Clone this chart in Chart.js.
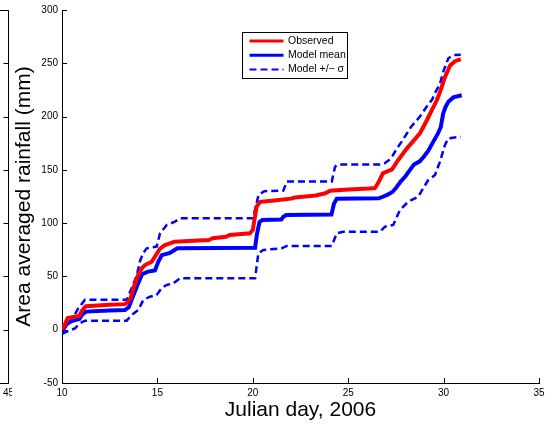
<!DOCTYPE html>
<html>
<head>
<meta charset="utf-8">
<script src="https://cdn.jsdelivr.net/npm/chart.js@4"></script>
<style>
  html, body { margin: 0; padding: 0; background: #fff; }
  canvas { display: block; }
</style>
</head>
<body>
<canvas id="myChart" width="555" height="428"></canvas>
<script>
// cumulative area averaged rainfall, Julian day 2006
const obsDays = [10, 10.15, 10.3, 10.9, 11.05, 11.25, 12.5, 13.3, 13.45, 13.6, 13.8, 14.0, 14.2, 14.35, 14.7, 14.85, 15.14, 15.4, 15.9, 16.9,
  17.7, 17.9, 18.6, 18.8, 19.85, 20.0, 20.2, 20.38, 21.0, 22.0, 22.2, 23.3, 23.8, 24.05, 25.0, 26.1, 26.4, 26.56, 26.82, 27.3,
  27.56, 28.08, 28.76, 29.13, 29.39, 29.65, 29.81, 30.07, 30.34, 30.6, 30.9];
const obsRain = [0, 5, 11, 13, 18, 22, 23.5, 24, 26, 30, 42, 52, 58, 60.7, 63.8, 68, 76, 79.5, 82.6, 83.5,
  84.2, 85.8, 87.3, 88.9, 90.5, 93.6, 115.5, 120, 121, 123, 124, 126, 128, 130.5, 131.5, 132.5, 133, 137.4, 146.8, 150.5,
  157.7, 170.2, 184.3, 196.8, 206.2, 215.5, 223, 237, 248, 252, 254];

const meanDays = [10, 10.15, 10.3, 10.5, 10.9, 11.05, 11.25, 12.5, 13.3, 13.5, 13.65, 13.8, 14.0, 14.2, 14.5, 14.87, 15.05, 15.23, 15.66, 15.92,
  16.05, 20.12, 20.22, 20.35, 20.5, 21.5, 21.6, 21.75, 24.12, 24.25, 24.4, 26.6, 26.85, 27.1, 27.3, 27.5, 27.75, 28.0, 28.24, 28.45,
  28.75, 28.95, 29.2, 29.46, 29.7, 29.85, 29.98, 30.1, 30.25, 30.51, 30.95];
const meanRain = [-1, 3, 6, 8, 10, 14, 17, 18, 18.5, 21, 28, 35, 44, 52, 54.5, 55.5, 64, 70, 72, 75,
  76.4, 77, 90, 101, 103, 103.5, 106, 107.6, 108, 118, 123, 123.3, 125, 127, 129, 133, 139, 144, 150, 155,
  158, 162, 168, 176.5, 184, 190, 203, 209, 214, 218, 220];

const upperDays = [10, 10.3, 10.6, 10.85, 11.2, 13.39, 13.65, 13.92, 14.1, 14.26, 14.44, 14.96, 15.14, 15.49, 15.92, 16.18, 20.0, 20.15, 20.3, 20.6,
  21.6, 21.78, 24.14, 24.31, 24.45, 26.67, 26.9, 27.25, 27.5, 27.8, 28.3, 28.76, 29.1, 29.4, 29.6, 29.8, 29.98, 30.25, 30.51, 30.9];
const upperRain = [-2, 5, 12, 20, 28, 28, 39, 51, 65, 72, 76.4, 78, 90.5, 98.3, 101.4, 104.5, 104.5, 115, 126.4, 130,
  130.5, 139, 139, 153, 155, 155, 156, 160.8, 168.6, 176.5, 190.5, 200, 209, 216, 224, 230, 242, 254.7, 257.8, 258];

const lowerDays = [10, 10.25, 10.68, 10.94, 11.2, 13.39, 13.65, 14.0, 14.26, 14.61, 14.96, 15.14, 15.2, 15.49, 15.83, 16.18, 20.12, 20.29, 20.55, 21.51,
  21.78, 24.14, 24.4, 24.74, 26.67, 26.93, 27.36, 27.71, 28.15, 28.67, 28.93, 29.2, 29.55, 29.81, 30.07, 30.25, 30.9];
const lowerRain = [-4, -1.8, 1.3, 6, 8.5, 8.5, 13.8, 18.5, 27.9, 31, 32.6, 37, 38.9, 42, 43.5, 48.2, 48.2, 71.7, 74.8, 76.4,
  78.6, 78.6, 90.5, 92, 92, 96.7, 98.3, 112.3, 120.1, 124.8, 132.7, 140.5, 145.2, 157.7, 173.3, 179.6, 181.1];

const seriesLabels = ['Observed', 'Model mean', 'Model +/\u2212 \u03c3'];
const xTitle = 'Julian day, 2006';
const yTitle = 'Area averaged rainfall (mm)';
const neighbourLabel = '45';

const FONT = "'Liberation Sans', Arial, Helvetica, sans-serif";

class RainfallGraphic {
  constructor() {
    this.ctx = document.getElementById('myChart');
    this.chart = null;
  }

  toPoints(days, rain) {
    return days.map((d, i) => ({ x: d, y: rain[i] }));
  }

  // inward ticks, the legend box and the edge of the neighbouring panel
  decorPlugin() {
    return {
      id: 'decor',
      afterDraw(chart) {
        const { ctx, chartArea: a, scales: { x, y } } = chart;
        ctx.save();
        ctx.strokeStyle = '#000';
        ctx.lineWidth = 1;
        ctx.beginPath();
        y.ticks.forEach(t => {
          const py = Math.round(y.getPixelForValue(t.value)) + 0.5;
          ctx.moveTo(a.left, py); ctx.lineTo(a.left + 5, py);
        });
        x.ticks.forEach(t => {
          const px = Math.round(x.getPixelForValue(t.value)) + 0.5;
          ctx.moveTo(px, a.bottom); ctx.lineTo(px, a.bottom - 5);
        });
        ctx.stroke();

        // right edge of the panel to the left
        const ex = 8.5;
        ctx.beginPath();
        ctx.moveTo(0, Math.round(a.top) + 0.5); ctx.lineTo(ex, Math.round(a.top) + 0.5);
        ctx.lineTo(ex, Math.round(a.bottom) + 0.5); ctx.lineTo(0, Math.round(a.bottom) + 0.5);
        y.ticks.forEach(t => {
          const py = Math.round(y.getPixelForValue(t.value)) + 0.5;
          ctx.moveTo(ex, py); ctx.lineTo(ex - 5, py);
        });
        ctx.stroke();
        ctx.save();
        ctx.beginPath();
        ctx.rect(0, a.bottom, 12, 40);
        ctx.clip();
        ctx.fillStyle = '#000';
        ctx.font = '10px ' + FONT;
        ctx.textAlign = 'center';
        ctx.textBaseline = 'top';
        ctx.fillText(neighbourLabel, ex, a.bottom + 5);
        ctx.restore();

        // legend
        const bx = 242.5, by = 32.5, bw = 105, bh = 46;
        ctx.fillStyle = '#fff';
        ctx.fillRect(bx, by, bw, bh);
        ctx.strokeStyle = '#000';
        ctx.lineWidth = 1;
        ctx.setLineDash([]);
        ctx.strokeRect(bx, by, bw, bh);
        ctx.font = '10.5px ' + FONT;
        ctx.textAlign = 'left';
        ctx.textBaseline = 'middle';
        const rows = [chart.data.datasets[0], chart.data.datasets[1], chart.data.datasets[2]];
        rows.forEach((ds, i) => {
          const ry = by + 8.5 + i * 14.3;
          ctx.beginPath();
          ctx.strokeStyle = ds.borderColor;
          ctx.lineWidth = ds.borderDash ? 2 : 3;
          ctx.setLineDash(ds.borderDash || []);
          ctx.moveTo(bx + 7, ry);
          ctx.lineTo(bx + 41, ry);
          ctx.stroke();
          ctx.setLineDash([]);
          ctx.fillStyle = '#000';
          ctx.fillText(seriesLabels[i], bx + 45.5, ry);
        });
        ctx.restore();
      }
    };
  }

  rainfall_graphic() {
    const lineBase = { pointRadius: 0, tension: 0, fill: false, borderCapStyle: 'butt' };
    const data = {
      datasets: [
        { ...lineBase, label: seriesLabels[0], data: this.toPoints(obsDays, obsRain), borderColor: '#ff0000', borderWidth: 4 },
        { ...lineBase, label: seriesLabels[1], data: this.toPoints(meanDays, meanRain), borderColor: '#0000ff', borderWidth: 4 },
        { ...lineBase, label: seriesLabels[2], data: this.toPoints(upperDays, upperRain), borderColor: '#0000ff', borderWidth: 2.5, borderDash: [7, 4] },
        { ...lineBase, label: seriesLabels[2], data: this.toPoints(lowerDays, lowerRain), borderColor: '#0000ff', borderWidth: 2.5, borderDash: [7, 4] }
      ]
    };

    const config = {
      type: 'line',
      data: data,
      options: {
        responsive: false,
        animation: false,
        layout: { padding: { left: 0, top: 10, right: 16, bottom: 0 } },
        plugins: { legend: { display: false }, tooltip: { enabled: false } },
        scales: {
          x: {
            type: 'linear',
            min: 10, max: 35,
            ticks: { stepSize: 5, color: '#000', padding: 4, font: { family: FONT, size: 10 }, maxRotation: 0 },
            grid: { display: true, drawOnChartArea: false, drawTicks: false },
            border: { display: true, color: '#000', width: 1 },
            title: { display: true, text: xTitle, color: '#000', font: { family: FONT, size: 21 }, padding: { top: 0, bottom: 5 } },
            afterFit: scale => { scale.height = 45; }
          },
          y: {
            min: -50, max: 300,
            ticks: { stepSize: 50, color: '#000', padding: 4, font: { family: FONT, size: 10 } },
            grid: { display: true, drawOnChartArea: false, drawTicks: false },
            border: { display: true, color: '#000', width: 1 },
            title: { display: true, text: yTitle, color: '#000', font: { family: FONT, size: 21 }, padding: { top: 12, bottom: 0 } },
            afterFit: scale => { scale.width = 62; }
          }
        }
      },
      plugins: [this.decorPlugin()]
    };

    this.chart = new Chart(this.ctx, config);
  }
}

new RainfallGraphic().rainfall_graphic();
</script>
</body>
</html>
